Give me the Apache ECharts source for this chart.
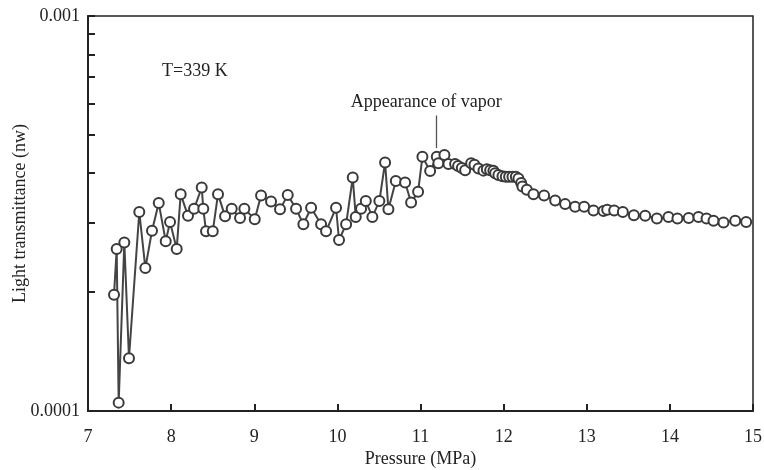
<!DOCTYPE html>
<html>
<head>
<meta charset="utf-8">
<script src="https://cdn.jsdelivr.net/npm/echarts@6/dist/echarts.min.js"></script>
<style>html,body{margin:0;padding:0;background:#fff;}#c{width:764px;height:470px;}</style>
</head>
<body>
<div id="c"></div>
<script>
// Pressure (MPa)
var pressure = [7.313,7.345,7.369,7.437,7.493,7.617,7.690,7.770,7.851,7.935,7.987,8.067,8.115,8.203,8.276,8.368,8.387,8.420,8.501,8.564,8.649,8.729,8.829,8.881,9.006,9.082,9.202,9.310,9.403,9.503,9.591,9.684,9.804,9.864,9.984,10.020,10.105,10.185,10.221,10.285,10.342,10.421,10.505,10.574,10.614,10.703,10.815,10.887,10.971,11.023,11.116,11.196,11.215,11.288,11.336,11.416,11.452,11.497,11.537,11.609,11.649,11.697,11.757,11.798,11.838,11.877,11.898,11.937,11.986,12.026,12.066,12.106,12.147,12.178,12.211,12.226,12.279,12.359,12.487,12.620,12.740,12.860,12.969,13.081,13.201,13.246,13.330,13.434,13.567,13.703,13.844,13.983,14.091,14.226,14.344,14.441,14.525,14.645,14.786,14.918];
// Light transmittance (nw)
var transmittance = [1.97e-4,2.57e-4,1.05e-4,2.67e-4,1.36e-4,3.19e-4,2.30e-4,2.86e-4,3.36e-4,2.69e-4,3.01e-4,2.57e-4,3.54e-4,3.12e-4,3.25e-4,3.68e-4,3.25e-4,2.85e-4,2.85e-4,3.54e-4,3.11e-4,3.25e-4,3.08e-4,3.25e-4,3.06e-4,3.51e-4,3.39e-4,3.24e-4,3.52e-4,3.25e-4,2.97e-4,3.27e-4,2.97e-4,2.85e-4,3.27e-4,2.71e-4,2.97e-4,3.90e-4,3.10e-4,3.25e-4,3.40e-4,3.10e-4,3.40e-4,4.26e-4,3.24e-4,3.82e-4,3.79e-4,3.37e-4,3.59e-4,4.40e-4,4.05e-4,4.40e-4,4.24e-4,4.45e-4,4.22e-4,4.22e-4,4.17e-4,4.12e-4,4.07e-4,4.24e-4,4.20e-4,4.11e-4,4.06e-4,4.09e-4,4.07e-4,4.06e-4,4.00e-4,3.96e-4,3.93e-4,3.92e-4,3.92e-4,3.92e-4,3.92e-4,3.88e-4,3.78e-4,3.70e-4,3.63e-4,3.54e-4,3.51e-4,3.41e-4,3.34e-4,3.29e-4,3.29e-4,3.22e-4,3.21e-4,3.23e-4,3.22e-4,3.19e-4,3.13e-4,3.12e-4,3.07e-4,3.10e-4,3.07e-4,3.08e-4,3.10e-4,3.07e-4,3.03e-4,3.00e-4,3.03e-4,3.01e-4];
var yTicks = [1e-4,2e-4,3e-4,4e-4,5e-4,6e-4,7e-4,8e-4,9e-4,1e-3];
var yLabels = [1e-4,1e-3];
var annotation = {text: 'Appearance of vapor', x: 11.19, yTop: 5.6e-4, yBottom: 4.63e-4};
var tempLabel = 'T=339 K';

var font = 'Liberation Serif';
var ink = '#222';
var data = pressure.map(function(p, i){ return [p, transmittance[i]]; });

var chart = echarts.init(document.getElementById('c'), null, {renderer: 'canvas'});
chart.setOption({
  animation: false,
  backgroundColor: '#fff',
  grid: {left: 88, right: 11, top: 16, bottom: 59, show: true, borderColor: ink, borderWidth: 1.5,
         containLabel: false, outerBoundsMode: 'none'},
  xAxis: {
    type: 'value', min: 7, max: 15, interval: 1,
    name: 'Pressure (MPa)', nameLocation: 'middle', nameGap: 39, nameMoveOverlap: false,
    nameTextStyle: {fontFamily: font, fontSize: 18, color: ink},
    axisLine: {lineStyle: {color: ink, width: 2}},
    axisTick: {inside: true, length: 7, lineStyle: {color: ink, width: 2}},
    axisLabel: {fontFamily: font, fontSize: 18, color: ink, margin: 17},
    splitLine: {show: false}
  },
  yAxis: {
    type: 'log', logBase: 10, min: 1e-4, max: 1e-3,
    name: 'Light transmittance (nw)', nameLocation: 'middle', nameGap: 59, nameMoveOverlap: false,
    nameTextStyle: {fontFamily: font, fontSize: 18, color: ink},
    axisLine: {show: true, lineStyle: {color: ink, width: 2}},
    axisTick: {inside: true, length: 7, customValues: yTicks, lineStyle: {color: ink, width: 2}},
    axisLabel: {fontFamily: font, fontSize: 18, color: ink, margin: 8, customValues: yLabels,
      formatter: function(v){ return v >= 9.9e-4 ? '0.001' : '0.0001'; }},
    splitLine: {show: false}
  },
  series: [{
    type: 'line',
    data: data,
    symbol: 'circle', symbolSize: 10, showAllSymbol: true,
    lineStyle: {color: '#444', width: 2},
    itemStyle: {color: '#fff', borderColor: '#3a3a3a', borderWidth: 2},
    z: 3,
    markLine: {
      silent: true, symbol: 'none', animation: false,
      lineStyle: {color: '#555', width: 1.3, type: 'solid'},
      label: {show: false},
      data: [[{coord: [annotation.x, annotation.yTop]}, {coord: [annotation.x, annotation.yBottom]}]]
    }
  }]
});
var pTop = chart.convertToPixel({gridIndex: 0}, [annotation.x, annotation.yTop]);
chart.setOption({
  graphic: [
    {type: 'text', x: pTop[0] - 10, y: pTop[1] - 4, style: {text: annotation.text, font: '18px "Liberation Serif"', fill: ink, align: 'center', verticalAlign: 'bottom'}},
    {type: 'text', x: 162, y: 71, style: {text: tempLabel, font: '18px "Liberation Serif"', fill: ink, align: 'left', verticalAlign: 'middle'}}
  ]
});
</script>
</body>
</html>
